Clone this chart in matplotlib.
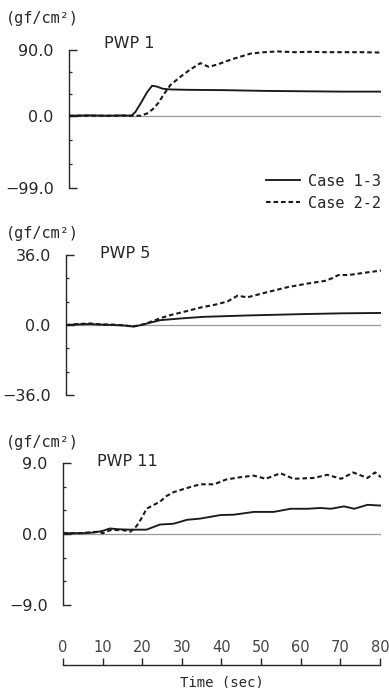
"""Porenwasserdruck PWP 1 / 5 / 11 - Case 1-3 vs Case 2-2."""
import matplotlib

matplotlib.use("Agg")
import matplotlib.pyplot as plt  # noqa: E402

# --- data ------------------------------------------------------------------
pwp1_t_solid = [0, 5, 10, 14, 16, 17, 18.5, 20, 21.3, 22.5, 24, 26, 30, 40, 50, 60, 70, 80]
pwp1_v_solid = [0, 0.5, 0, 0.5, 0, 5, 18, 32, 41, 40, 37, 36, 35.5, 35, 34, 33.5, 33, 33]
pwp1_t_dash = [0, 10, 15, 18.3, 20, 21.5, 23, 24.2, 26, 28.5, 31, 33.7, 35.8, 38, 40, 42.2,
               46.5, 50, 53.4, 58, 62, 66, 70, 75, 80]
pwp1_v_dash = [0, 0, 0, 0, 3, 9, 18, 28.5, 42, 53, 63, 72, 67, 70, 74, 78,
               85, 87, 88, 87, 87.5, 87, 87, 87, 86.5]

pwp5_t_solid = [0, 3, 6, 9, 12, 15, 17, 18.5, 20, 22, 24, 30, 35, 46, 60, 70, 80]
pwp5_v_solid = [0, 0.3, 0.5, 0.2, 0, -0.3, -0.8, -0.3, 0.5, 1.5, 2.5, 3.5, 4.2, 4.9, 5.6, 6.0, 6.2]
pwp5_t_dash = [0, 3, 6, 9, 12, 15, 17, 18.5, 20, 22, 24, 26.5, 30, 34.2, 38, 41, 43.6, 46,
               51.3, 56.4, 61.6, 65.8, 67.5, 69.2, 71.8, 75.2, 80]
pwp5_v_dash = [0, 0.5, 0.8, 0.3, 0.2, -0.2, -0.8, -0.2, 0.5, 2, 3.5, 5.1, 6.8, 9, 10.5, 12.1,
               15.1, 14.2, 17, 19.5, 21.4, 22.7, 24, 25.7, 25.7, 26.7, 28]

pwp11_t_solid = [0, 5, 8, 10, 11.8, 14, 16.8, 21, 24.4, 27.8, 31.2, 34.5, 39.6, 43, 48, 53,
                 57.3, 61.5, 64.8, 67.4, 70.7, 73.3, 76.6, 80]
pwp11_v_solid = [0.1, 0.1, 0.2, 0.4, 0.7, 0.6, 0.55, 0.55, 1.2, 1.3, 1.8, 1.95, 2.4, 2.45, 2.8,
                 2.8, 3.2, 3.2, 3.3, 3.2, 3.5, 3.2, 3.7, 3.6]
pwp11_t_dash = [0, 4, 9, 10, 12, 15, 17, 18.5, 20, 21, 22.5, 24.4, 26, 27.8, 31, 34.5, 38, 41,
                44.6, 48, 51, 54.7, 58, 63, 66.5, 70, 73, 76.6, 78.5, 80]
pwp11_v_dash = [0.1, 0.1, 0.3, 0.1, 0.5, 0.5, 0.3, 1, 2.2, 3.2, 3.6, 4.1, 4.8, 5.3, 5.8, 6.3, 6.3,
                6.9, 7.2, 7.4, 7.0, 7.7, 7.0, 7.1, 7.5, 7.0, 7.8, 7.1, 7.8, 7.2]

panel_titles = ["PWP 1", "PWP 5", "PWP 11"]
panel_limits = [(-99, 90), (-36, 36), (-9, 9)]
panel_minor = [[60, 30, -33, -66], [24, 12, -12, -24], [6, 3, -3, -6]]
panel_labels = [["90.0", "0.0", "\u221299.0"], ["36.0", "0.0", "\u221236.0"],
                ["9.0", "0.0", "\u22129.0"]]
series_names = ["Case 1-3", "Case 2-2"]
time_ticks = [0, 10, 20, 30, 40, 50, 60, 70, 80]
unit_label = "(gf/cm\u00b2)"
time_label = "Time (sec)"

panels = [
    (pwp1_t_solid, pwp1_v_solid, pwp1_t_dash, pwp1_v_dash),
    (pwp5_t_solid, pwp5_v_solid, pwp5_t_dash, pwp5_v_dash),
    (pwp11_t_solid, pwp11_v_solid, pwp11_t_dash, pwp11_v_dash),
]

# --- layout (pixel boxes of the reference, 389 x 688) ----------------------
W, H = 389, 688
ink = "#262626"
mono = ["DejaVu Sans Mono"]
plt.rcParams["font.family"] = ["DejaVu Sans"]

fig = plt.figure(figsize=(W / 100, H / 100), dpi=100)
fig.patch.set_facecolor("white")

# (left px, right px, top px, bottom px) of each data area
boxes = [(69, 381, 50, 188), (66, 381, 255, 395), (63, 381, 463, 605)]
unit_pos = [(6, 18), (6, 233), (6, 443)]
title_pos = [(104, 43), (100, 253), (97, 462)]


def px_box(left, right, top, bottom):
    return [left / W, 1 - bottom / H, (right - left) / W, (bottom - top) / H]


for i, (ts, vs, td, vd) in enumerate(panels):
    ax = fig.add_axes(px_box(*boxes[i]))
    lo, hi = panel_limits[i]
    ax.set_xlim(0, 80)
    ax.set_ylim(lo, hi)
    ax.axhline(0, color="#9a9a9a", lw=0.9, zorder=1)
    ax.plot(ts, vs, color="#1a1a1a", lw=1.35, label=series_names[0], zorder=3)
    ax.plot(td, vd, color="#1a1a1a", lw=1.5, ls=(0, (2.2, 1.4)),
            label=series_names[1], zorder=3)

    for side in ["top", "right", "bottom"]:
        ax.spines[side].set_visible(False)
    ax.spines["left"].set_color(ink)
    ax.spines["left"].set_linewidth(1.0)
    ax.set_xticks([])
    ax.set_yticks([hi, 0, lo])
    ax.set_yticks(panel_minor[i], minor=True)
    ax.set_yticklabels(panel_labels[i])
    ax.tick_params(axis="y", which="major", direction="in", length=6, width=1.0,
                   color=ink, labelsize=11.5, labelcolor=ink, pad=11)
    ax.tick_params(axis="y", which="minor", direction="in", length=2.5, width=0.9,
                   color=ink)
    ax.patch.set_alpha(0)

    fig.text(unit_pos[i][0] / W, 1 - unit_pos[i][1] / H, unit_label,
             fontsize=11, family=mono, color=ink, va="center", ha="left")
    fig.text(title_pos[i][0] / W, 1 - title_pos[i][1] / H, panel_titles[i],
             fontsize=11.5, color=ink, va="center", ha="left")

    if i == 0:
        ax.legend(loc="center right", bbox_to_anchor=(1.0, -0.03), frameon=False,
                  prop={"family": mono, "size": 11}, handlelength=2.2,
                  handletextpad=0.55, labelspacing=0.45, borderpad=0,
                  borderaxespad=0, labelcolor=ink)

# time scale bar below the panels
sx = fig.add_axes([63 / W, 1 - 665 / H, (380 - 63) / W, 0.0001])
sx.set_xlim(0, 80)
sx.set_yticks([])
for side in ["bottom", "left", "right"]:
    sx.spines[side].set_visible(False)
sx.spines["top"].set_color(ink)
sx.spines["top"].set_linewidth(1.0)
sx.xaxis.tick_top()
sx.set_xticks(time_ticks)
sx.tick_params(axis="x", direction="out", length=5, width=1.0, color=ink,
               labelsize=10.5, labelcolor="#444444", pad=2)
fig.text((63 + 380) / 2 / W, 1 - 682 / H, time_label, fontsize=10, family=mono,
         color=ink, ha="center", va="center")

fig.savefig("out.png", dpi=100)
plt.close(fig)
